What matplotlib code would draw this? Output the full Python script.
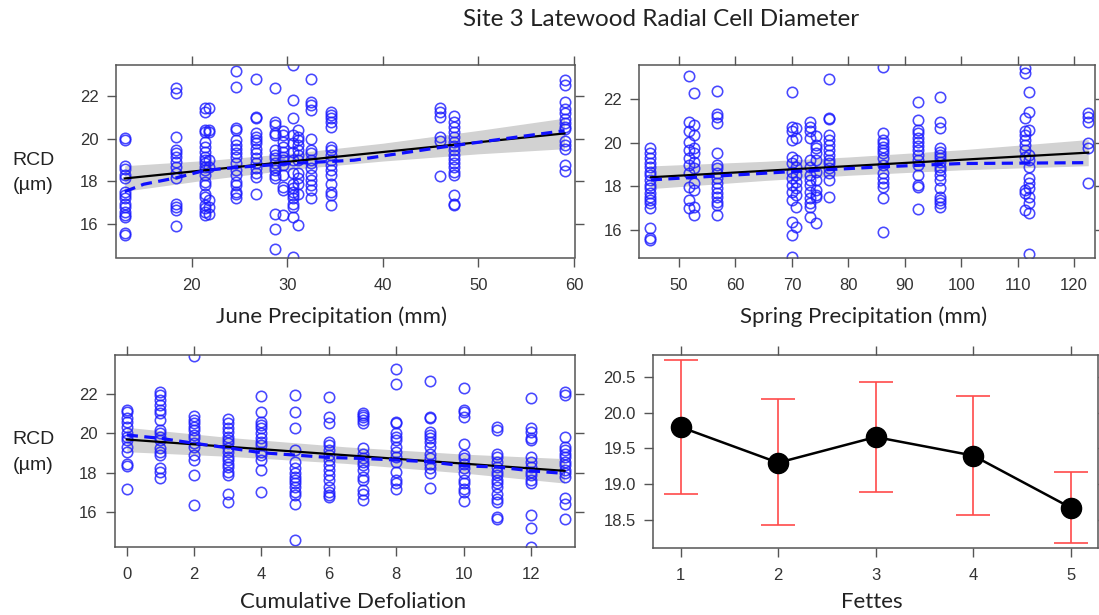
import numpy as np
import matplotlib
matplotlib.use("Agg")
import matplotlib.pyplot as plt

W, H = 1099, 615

# ---- panel 1: June precipitation (partial residuals, columns of points) ----
june_cols = [13, 18.4, 21.4, 21.8, 24.6, 26.7, 28.7, 29.6, 30.6, 31.1, 32.5, 34.6, 46.0, 47.4, 59.1]
june_vals = [
    [20.04, 19.93, 18.70, 18.56, 18.28, 18.12, 17.49, 17.34, 17.18, 16.94, 16.79, 16.55, 16.39, 16.31, 15.53, 15.45],
    [22.36, 22.16, 20.08, 19.46, 19.30, 19.14, 18.91, 18.67, 18.36, 18.12, 16.94, 16.79, 16.63, 15.89],
    [21.42, 21.26, 20.40, 20.32, 19.85, 19.61, 19.38, 19.14, 18.98, 18.83, 18.67, 18.51, 18.28, 17.96, 17.81,
     17.41, 17.26, 16.86, 16.71, 16.55, 16.39],
    [21.42, 20.40, 20.32, 18.98, 18.67, 17.10, 16.79, 16.47],
    [23.19, 22.44, 20.48, 20.40, 19.93, 19.69, 19.53, 19.30, 19.14, 18.83, 18.51, 18.28, 17.96, 17.81, 17.49, 17.41, 17.18],
    [22.80, 21.03, 20.95, 20.24, 20.08, 19.93, 19.77, 19.53, 19.30, 19.06, 18.83, 18.59, 18.36, 18.17, 17.38],
    [22.39, 20.79, 20.63, 20.24, 20.16, 19.46, 19.22, 19.06, 18.83, 18.67, 18.51, 18.28, 18.12, 16.47, 15.76, 14.78],
    [20.37, 20.16, 19.85, 19.61, 19.38, 19.14, 18.98, 18.75, 18.28, 17.73, 17.57, 16.39],
    [23.46, 21.81, 20.95, 20.16, 19.77, 19.38, 18.98, 18.36, 17.88, 17.65, 17.49, 17.34, 17.18, 16.94, 16.79, 16.31, 14.43],
    [20.40, 20.08, 19.93, 19.69, 19.46, 19.22, 18.98, 18.36, 18.12, 17.88, 17.41, 15.92],
    [22.80, 21.73, 21.57, 21.34, 19.97, 19.46, 19.30, 18.98, 18.83, 18.59, 18.28, 18.04, 17.81, 17.57, 17.18],
    [21.26, 21.10, 20.95, 20.79, 20.56, 19.61, 19.46, 19.22, 18.98, 18.75, 18.51, 18.28, 17.88, 17.49, 17.34, 16.86],
    [21.45, 21.23, 20.99, 20.05, 19.87, 18.23],
    [21.06, 20.79, 20.56, 20.32, 20.08, 19.85, 19.64, 19.46, 19.22, 19.02, 18.83, 18.64, 18.43, 18.28, 17.34, 16.94, 16.86],
    [22.75, 22.52, 21.73, 21.37, 21.18, 20.90, 20.71, 20.56, 20.43, 19.88, 19.69, 19.53, 18.75, 18.48],
]
june_fit_x = [13, 59]
june_fit_y = [18.12, 20.24]
june_band_x = [13, 22, 31, 40, 50, 59]
june_band_lo = [17.52, 18.08, 18.57, 18.94, 19.28, 19.52]
june_band_hi = [18.72, 18.98, 19.33, 19.78, 20.38, 20.96]
june_smooth_x = [13, 15, 18.4, 21.4, 25, 30.6, 37, 46, 59]
june_smooth_y = [17.50, 17.85, 18.15, 18.50, 18.65, 18.83, 18.98, 19.58, 20.37]

# ---- panel 2: spring precipitation ----
spring_cols = [44.9, 51.8, 52.6, 56.7, 70.1, 70.8, 73.2, 74.3, 76.5, 86.2, 92.4, 96.3, 111.3, 112.0, 122.5]
spring_vals = [
    [19.75, 19.52, 19.29, 19.06, 18.91, 18.68, 18.53, 18.30, 18.07, 17.91, 17.71, 17.53, 17.38, 17.22, 17.00,
     16.08, 15.62, 15.55],
    [23.07, 20.97, 20.52, 20.06, 19.67, 19.29, 18.98, 18.60, 17.99, 17.38, 17.00],
    [22.28, 20.82, 20.36, 19.75, 19.52, 19.14, 18.83, 18.14, 17.83, 17.07, 16.69],
    [22.38, 21.31, 21.20, 20.93, 19.55, 18.98, 18.83, 18.60, 18.37, 18.14, 17.91, 17.71, 17.53, 17.30, 17.15, 16.69],
    [22.35, 20.74, 20.52, 20.14, 19.37, 19.06, 18.68, 18.37, 18.07, 17.76, 17.38, 16.38, 15.77, 14.78],
    [20.67, 20.21, 19.21, 18.91, 18.53, 18.22, 17.91, 17.61, 17.07, 16.15],
    [20.97, 20.74, 20.52, 20.21, 19.21, 18.91, 18.53, 18.30, 18.07, 17.76, 17.45, 17.22, 17.07, 16.61],
    [20.29, 19.90, 19.75, 19.52, 19.21, 18.68, 18.30, 17.84, 17.61, 17.53, 16.31],
    [22.93, 21.13, 21.08, 20.36, 20.13, 19.90, 19.67, 19.44, 19.21, 19.06, 18.83, 18.60, 18.30, 17.50],
    [23.50, 20.47, 20.13, 20.01, 19.83, 19.67, 19.52, 19.29, 18.98, 18.60, 18.37, 18.14, 17.99, 17.45, 15.92],
    [21.85, 21.05, 20.59, 20.44, 20.21, 20.06, 19.86, 19.67, 19.44, 19.21, 18.98, 18.53, 18.07, 17.99, 16.95],
    [22.09, 20.97, 20.67, 19.75, 19.60, 19.44, 19.29, 19.14, 18.91, 18.75, 18.53, 18.30, 17.91, 17.53, 17.38,
     17.22, 17.07],
    [23.42, 23.19, 21.13, 20.52, 20.36, 20.13, 19.90, 19.67, 19.37, 17.84, 17.68, 16.92],
    [22.31, 21.43, 20.59, 19.44, 19.21, 18.91, 18.37, 18.14, 17.91, 17.53, 17.22, 16.77, 14.90],
    [21.39, 21.20, 20.97, 20.01, 19.75, 18.14],
]
spring_fit_x = [45, 122.5]
spring_fit_y = [18.42, 19.55]
spring_band_x = [45, 65, 80, 100, 122.5]
spring_band_lo = [17.90, 18.27, 18.51, 18.76, 18.95]
spring_band_hi = [18.94, 19.15, 19.35, 19.68, 20.15]
spring_smooth_x = [45, 55, 70, 86, 100, 122.5]
spring_smooth_y = [18.30, 18.45, 18.68, 18.90, 19.05, 19.09]

# ---- panel 3: cumulative defoliation ----
defol_cols = list(range(14))
defol_vals = [
    [21.19, 21.10, 20.76, 20.59, 20.34, 20.00, 19.83, 19.66, 19.32, 19.07, 18.47, 18.34, 17.20],
    [22.12, 21.95, 21.69, 21.44, 21.19, 21.02, 20.68, 20.17, 20.00, 19.83, 19.66, 19.24, 19.07, 18.90, 18.22,
     18.05, 17.76],
    [23.93, 20.88, 20.68, 20.51, 20.34, 20.17, 19.92, 19.75, 19.49, 19.32, 18.90, 18.64, 17.88, 16.36],
    [20.71, 20.51, 20.25, 20.08, 19.83, 19.66, 19.49, 19.24, 19.07, 18.81, 18.64, 18.47, 18.31, 18.05, 17.88,
     16.95, 16.53],
    [21.90, 21.10, 20.59, 20.42, 20.25, 20.00, 19.75, 19.58, 19.41, 19.07, 18.90, 18.64, 18.14, 17.03],
    [21.95, 21.10, 20.25, 19.15, 18.56, 18.22, 17.97, 17.80, 17.63, 17.46, 17.29, 17.03, 16.86, 16.44, 14.58],
    [21.83, 20.81, 20.51, 19.58, 19.41, 19.15, 18.90, 18.64, 18.39, 18.14, 17.88, 17.63, 17.29, 17.03, 16.86, 16.78],
    [21.05, 20.93, 20.81, 20.68, 20.54, 19.24, 18.98, 18.73, 18.56, 18.39, 18.14, 17.80, 17.63, 17.12, 16.95, 16.61],
    [23.25, 22.49, 20.59, 20.51, 20.00, 19.83, 19.66, 19.32, 19.07, 18.81, 18.56, 18.05, 17.63, 17.46, 17.20],
    [22.66, 20.85, 20.76, 20.08, 19.92, 19.75, 19.58, 19.32, 18.98, 18.73, 18.47, 18.22, 17.97, 17.24],
    [22.29, 21.19, 21.10, 20.81, 19.44, 18.90, 18.73, 18.47, 18.22, 17.97, 17.63, 17.46, 17.20, 17.03, 16.58],
    [20.31, 20.17, 18.98, 18.81, 18.56, 18.31, 18.05, 17.88, 17.63, 17.46, 17.29, 16.95, 16.69, 16.53, 15.78, 15.64],
    [21.78, 20.25, 20.08, 19.75, 19.66, 18.81, 18.56, 18.31, 18.05, 17.88, 17.63, 17.46, 15.86, 15.19, 14.25],
    [22.12, 21.95, 19.83, 19.32, 19.15, 18.98, 18.81, 18.56, 18.39, 18.14, 17.97, 17.80, 16.70, 16.44, 15.64],
]
defol_fit_x = [0, 13]
defol_fit_y = [19.69, 18.10]
defol_band_x = [0, 3, 6.5, 10, 13]
defol_band_lo = [19.07, 18.84, 18.48, 17.99, 17.48]
defol_band_hi = [20.31, 19.80, 19.32, 18.95, 18.72]
defol_smooth_x = list(range(14))
defol_smooth_y = [19.92, 19.75, 19.50, 19.27, 19.02, 18.90, 18.78, 18.73, 18.65, 18.56, 18.35, 18.30, 18.10, 17.97]

# ---- panel 4: Fettes effect ----
fettes = [1, 2, 3, 4, 5]
fettes_fit = [19.80, 19.30, 19.66, 19.40, 18.67]
fettes_lo = [18.86, 18.43, 18.89, 18.56, 18.18]
fettes_hi = [20.74, 20.19, 20.43, 20.24, 19.17]

BLUE = "#1a1aff"
FRAME = "#555555"
TICKC = "#333333"
SANS = "Liberation Sans"
LABF = "Lato"


def add_ax(fig, left, right, top, bottom):
    return fig.add_axes([left / W, 1 - bottom / H, (right - left) / W, (bottom - top) / H])


def style(ax, xlim, ylim, xticks, yticks, fmt=None):
    ax.set_xlim(*xlim); ax.set_ylim(*ylim)
    ax.set_xticks(xticks); ax.set_yticks(yticks)
    if fmt:
        ax.set_yticklabels([fmt % v for v in yticks])
    for s in ax.spines.values():
        s.set_color(FRAME); s.set_linewidth(1.1)
    ax.tick_params(direction="out", length=6.5, width=1, color=FRAME, top=True, right=True,
                   labeltop=False, labelright=False, labelsize=12, labelcolor=TICKC, pad=6)
    ax.tick_params(axis="x", pad=8)
    for t in ax.get_xticklabels() + ax.get_yticklabels():
        t.set_family(SANS)


def residual_panel(ax, cols, vals, band_x, lo, hi, fit_x, fit_y, sm_x, sm_y):
    xs = np.concatenate([[c] * len(v) for c, v in zip(cols, vals)])
    ys = np.concatenate(vals)
    ax.fill_between(band_x, lo, hi, color="#d2d2d2", lw=0, zorder=1)
    ax.plot(xs, ys, "o", ms=7.5, mfc="none", mec=BLUE, mew=1.15, alpha=0.8, zorder=2, clip_on=True)
    ax.plot(fit_x, fit_y, color="black", lw=1.6, zorder=3)
    ax.plot(sm_x, sm_y, color="#1010ff", lw=2.3, ls=(0, (3.5, 2)), zorder=4)


fig = plt.figure(figsize=(W / 100, H / 100), dpi=100)

ax1 = add_ax(fig, 116, 575, 65, 257.5)
residual_panel(ax1, june_cols, june_vals, june_band_x, june_band_lo, june_band_hi,
               june_fit_x, june_fit_y, june_smooth_x, june_smooth_y)
style(ax1, (12.09, 60.1), (14.4, 23.46), [20, 30, 40, 50, 60], [16, 18, 20, 22])

ax2 = add_ax(fig, 639.3, 1095, 65, 257.7)
residual_panel(ax2, spring_cols, spring_vals, spring_band_x, spring_band_lo, spring_band_hi,
               spring_fit_x, spring_fit_y, spring_smooth_x, spring_smooth_y)
style(ax2, (42.96, 123.7), (14.73, 23.57), list(range(50, 121, 10)), [16, 18, 20, 22])

ax3 = add_ax(fig, 115, 575, 355, 547.3)
residual_panel(ax3, defol_cols, defol_vals, defol_band_x, defol_band_lo, defol_band_hi,
               defol_fit_x, defol_fit_y, defol_smooth_x, defol_smooth_y)
style(ax3, (-0.35, 13.31), (14.22, 23.98), list(range(0, 13, 2)), [16, 18, 20, 22])

ax4 = add_ax(fig, 653.3, 1098, 355, 548.3)
yerr = [np.subtract(fettes_fit, fettes_lo), np.subtract(fettes_hi, fettes_fit)]
ax4.errorbar(fettes, fettes_fit, yerr=yerr, fmt="none", ecolor="#ff4a4a", elinewidth=1.2,
             capsize=12, capthick=1.2, zorder=2)
ax4.plot(fettes, fettes_fit, "-o", color="black", lw=1.8, ms=14.5, zorder=3)
style(ax4, (0.72, 5.28), (18.10, 20.81), fettes, [18.5, 19.0, 19.5, 20.0, 20.5], fmt="%.1f")

# ---- text ----
fig.text(661 / W, 1 - 20 / H, "Site 3 Latewood Radial Cell Diameter", ha="center", va="center",
         family=LABF, fontsize=17.5, color="#222222")
for x, y, s in [(332, 317, "June Precipitation (mm)"), (864, 317, "Spring Precipitation (mm)"),
                (353, 602, "Cumulative Defoliation"), (872, 602, "Fettes")]:
    fig.text(x / W, 1 - y / H, s, ha="center", va="center", family=LABF, fontsize=16, color="#222222")
for yc in (172, 452):
    fig.text(33 / W, 1 - (yc - 12) / H, "RCD", ha="center", va="center", family=SANS, fontsize=14,
             color="#222222")
    fig.text(33 / W, 1 - (yc + 13) / H, "(\u00b5m)", ha="center", va="center", family=SANS, fontsize=14,
             color="#222222")

fig.savefig("out.png", dpi=100)
